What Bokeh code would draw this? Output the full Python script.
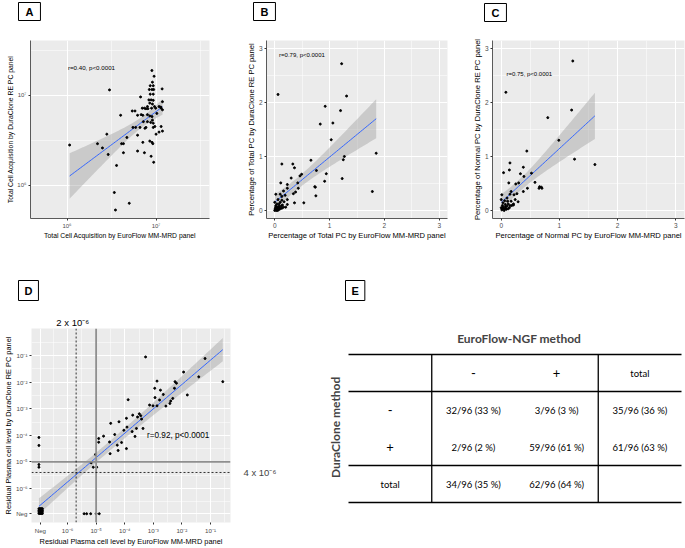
import json
import numpy as np
from bokeh.plotting import figure
from bokeh.models import Range1d, FixedTicker, Label, Span, CustomJSTickFormatter, Title
from bokeh.layouts import column, row
from bokeh.embed import file_html
from bokeh.resources import INLINE
from bokeh.core.properties import value

FONT = "Liberation Sans"
TFONT = "Lato"

# ---------------- Panel A : total cell acquisition (millions of cells)
a_euroflow_millions = [8.98, 9.5, 9.1, 8.6, 9.3, 8.4, 9.0, 9.4, 11.7, 6.7,
                       8.6, 9.3, 8.3, 8.8, 9.3, 8.5, 9.1, 8.0, 9.6, 7.0,
                       7.4, 7.7, 8.1, 8.9, 9.9, 10.8, 11.8, 11.8, 5.4, 5.8,
                       4.0, 6.2, 6.8, 7.1, 8.0, 8.5, 9.0, 11.4, 10.2, 9.1,
                       7.2, 8.0, 8.7, 9.3, 9.7, 7.7, 9.3, 6.6, 5.5, 5.9,
                       7.5, 11.4, 10.8, 10.0, 11.8, 2.8, 6.2, 4.7, 4.1, 4.3,
                       8.5, 9.0, 9.2, 7.1, 2.2, 2.5, 2.9, 4.3, 6.2, 7.4,
                       8.8, 9.4, 3.6, 3.4, 5.0, 3.5, 1.07, 3.0, 11.3]
a_duraclone_millions = [18.9, 16.3, 14.0, 12.8, 12.8, 11.6, 11.6, 11.6, 11.8, 9.6,
                        10.3, 10.3, 8.9, 8.9, 8.8, 8.2, 8.0, 7.5, 7.5, 7.2,
                        7.2, 7.1, 7.1, 7.2, 7.2, 7.5, 8.5, 6.9, 6.7, 6.7,
                        6.0, 6.0, 6.1, 6.0, 6.1, 5.9, 5.8, 7.2, 6.3, 5.3,
                        5.1, 5.1, 5.0, 4.9, 4.5, 4.4, 4.4, 4.4, 4.4, 4.4,
                        4.3, 4.5, 3.9, 3.7, 4.0, 3.7, 3.6, 3.4, 2.9, 2.9,
                        3.1, 3.0, 2.9, 3.0, 2.9, 2.6, 2.2, 2.3, 2.4, 2.3,
                        2.1, 1.8, 1.66, 0.83, 0.63, 0.53, 2.8, 11.5, 7.4]

# ---------------- Panel B : % total PC
b_euroflow = [1.22, 0.06, 1.31, 0.92, 1.20, 0.83, 1.06, 1.03, 1.85, 1.27,
              1.25, 0.66, 0.13, 0.33, 0.36, 0.49, 0.46, 0.76, 0.94, 0.30,
              1.23, 0.91, 0.11, 0.23, 0.42, 0.73, 0.74, 0.23, 0.43, 0.38,
              0.34, 0.75, 1.78, 0.16, 0.10, 0.19, 0.13, 0.02, 0.06, 0.23,
              0.36, 0.53, 0.23, 0.20, 0.14, 0.08, 0.05, 0.02, 0.10, 0.13,
              0.17, 0.04, 0.07, 0.01, 0.03, 0.05, 0.07, 0.10, 0.13, 0.01,
              0.02, 0.04, 0.00, 0.08, 0.12, 0.16, 0.02, 0.06, 0.09, 0.00, 0.03]
b_duraclone = [2.72, 2.15, 2.12, 1.93, 1.85, 1.60, 1.62, 1.31, 1.06, 1.00,
               0.94, 0.93, 0.86, 0.86, 0.79, 0.67, 0.64, 0.74, 0.68, 0.60,
               0.59, 0.54, 0.51, 0.48, 0.51, 0.44, 0.43, 0.41, 0.41, 0.34,
               0.31, 0.27, 0.35, 0.36, 0.30, 0.28, 0.26, 0.30, 0.20, 0.20,
               0.14, 0.14, 0.11, 0.06, 0.10, 0.12, 0.06, 0.07, 0.15, 0.19,
               0.16, 0.03, 0.02, 0.01, 0.00, 0.00, 0.01, 0.03, 0.04, 0.04,
               0.09, 0.12, 0.15, 0.08, 0.08, 0.06, 0.02, 0.05, 0.05, 0.00, 0.05]

# ---------------- Panel C : % normal PC
c_euroflow = [1.23, 0.08, 1.21, 0.80, 0.99, 0.44, 1.26, 1.61, 0.15, 0.38,
              0.14, 0.04, 0.52, 0.33, 0.39, 0.58, 0.13, 0.25, 0.30, 0.66,
              0.69, 0.70, 0.65, 0.45, 0.38, 0.17, 0.27, 0.22, 0.15, 0.01,
              0.10, 0.24, 0.17, 0.29, 0.21, 0.12, 0.07, 0.02, 0.04, 0.01,
              0.06, 0.08, 0.10, 0.15, 0.18, 0.21, 0.03, 0.11, 0.00, 0.06,
              0.02, 0.05, 0.09, 0.12, 0.03, 0.07, 0.00, 0.14]
c_duraclone = [2.77, 2.19, 1.86, 1.72, 1.30, 1.10, 0.95, 0.85, 0.88, 0.80,
               0.75, 0.70, 0.69, 0.68, 0.63, 0.52, 0.51, 0.49, 0.51, 0.44,
               0.43, 0.41, 0.41, 0.41, 0.35, 0.35, 0.31, 0.29, 0.30, 0.29,
               0.23, 0.20, 0.17, 0.16, 0.12, 0.12, 0.07, 0.09, 0.04, 0.01,
               0.02, 0.04, 0.08, 0.09, 0.09, 0.10, 0.14, 0.17, 0.20, 0.18,
               0.03, 0.00, 0.02, 0.03, 0.06, 0.11, 0.05, 0.05]

# ---------------- Panel D : residual PC level, log10 (Neg plotted near -7)
d_euroflow_log = [-3.27, -1.19, -1.94, -1.41, -0.57, -2.87, -2.95, -2.24, -2.19, -2.75,
                  -2.26, -1.81, -2.65, -2.94, -2.32, -3.88, -2.78, -3.13, -3.01, -2.87,
                  -2.56, -2.42, -2.39, -3.49, -3.44, -3.55, -3.72, -3.94, -3.41, -4.20,
                  -4.49, -4.03, -3.92, -3.59, -3.36, -3.74, -4.35, -4.74, -4.91, -4.91,
                  -4.53, -4.11, -4.26, -3.64, -3.94, -4.51, -4.23, -5.02, -5.17, -5.10,
                  -4.98, -7.00, -7.00, -7.00, -7.00, -5.42, -5.33, -5.19, -5.00, -4.89,
                  -7.00, -6.97, -6.94, -6.91, -6.88, -7.00, -6.97, -6.94, -6.91, -6.88,
                  -7.00, -6.97, -6.94, -6.91, -6.88, -7.00, -6.97, -6.94, -6.91, -6.88]
d_duraclone_log = [-1.05, -1.11, -1.62, -1.80, -1.98, -1.96, -2.23, -1.98, -2.04, -2.30,
                   -2.23, -2.48, -2.46, -2.58, -2.61, -2.66, -2.67, -2.86, -2.89, -2.89,
                   -2.90, -2.80, -2.71, -3.19, -3.26, -3.31, -3.24, -3.36, -3.39, -3.49,
                   -3.55, -3.81, -3.69, -3.74, -3.74, -3.86, -3.97, -4.03, -4.12, -4.26,
                   -4.25, -4.27, -4.37, -4.04, -4.50, -4.69, -4.57, -4.72, -5.03, -5.20,
                   -5.20, -4.08, -4.38, -5.10, -5.20, -6.95, -6.95, -6.95, -6.95, -6.95,
                   -6.76, -6.76, -6.76, -6.76, -6.76, -6.82, -6.82, -6.82, -6.82, -6.82,
                   -6.88, -6.88, -6.88, -6.88, -6.88, -6.94, -6.94, -6.94, -6.94, -6.94]

d_tick_pos = [-6.95, -6, -5, -4, -3, -2, -1]
d_tick_labels = ["Neg", "10\u207b\u2076", "10\u207b\u2075", "10\u207b\u2074",
                 "10\u207b\u00b3", "10\u207b\u00b2", "10\u207b\u00b9"]
d_cutoff_solid = 1e-5
d_cutoff_x_dashed = 2e-6
d_cutoff_y_dashed = 4e-6

# ---------------- Panel E : concordance table
e_col_headers = ["-", "+", "total"]
e_row_headers = ["-", "+", "total"]
e_cells = [["32/96 (33 %)", "3/96 (3 %)", "35/96 (36 %)"],
           ["2/96 (2 %)", "59/96 (61 %)", "61/96 (63 %)"],
           ["34/96 (35 %)", "62/96 (64 %)", ""]]

AXIS_GREY = "#4D4D4D"


def tick_formatter(ticks, labels):
    code = ("const t = %s; const l = %s;"
            "for (let i = 0; i < t.length; i++) { if (Math.abs(t[i] - tick) < 1e-6) return l[i]; }"
            "return '';") % (json.dumps(ticks), json.dumps(labels))
    return CustomJSTickFormatter(code=code)


def lm_band(x, y, n=60, t=1.99):
    x = np.asarray(x, float)
    y = np.asarray(y, float)
    b, a = np.polyfit(x, y, 1)
    xs = np.linspace(x.min(), x.max(), n)
    fit = a + b * xs
    resid = y - (a + b * x)
    s = np.sqrt((resid ** 2).sum() / (len(x) - 2))
    sxx = ((x - x.mean()) ** 2).sum()
    se = s * np.sqrt(1.0 / len(x) + (xs - x.mean()) ** 2 / sxx)
    return xs, fit, fit - t * se, fit + t * se


def make_title(text, size, offset, standoff, boxed, pad=(7, 3)):
    kw = dict(text=text, align="left", offset=offset, standoff=standoff,
              text_font=FONT, text_font_size=size, text_color="black")
    if boxed:
        kw.update(text_font_style="bold", border_line_color="black",
                  border_line_width=1, background_fill_color="white")
        try:
            return Title(padding=pad, **kw)
        except (AttributeError, ValueError):
            return Title(**kw)
    kw.update(text_font_style="normal")
    return Title(**kw)


def spacer_title(standoff):
    # blank title that only reserves vertical room between the frame and the panel letter
    return Title(text=" ", text_font_size="1px", standoff=standoff)


def panel(w, h, bl, br, bt, bb, xr, yr, xt, xm, yt, ym, xtitle, ytitle,
          tick_size, title_size, xfmt=None, yfmt=None, axis_line=True):
    p = figure(width=w, height=h, x_range=Range1d(*xr), y_range=Range1d(*yr),
               output_backend="svg", toolbar_location=None, title=None,
               min_border_left=bl, min_border_right=br,
               min_border_top=bt, min_border_bottom=bb)
    p.background_fill_color = "#EBEBEB"
    p.border_fill_color = "white"
    p.outline_line_color = None
    p.xaxis.ticker = FixedTicker(ticks=xt, minor_ticks=xm)
    p.yaxis.ticker = FixedTicker(ticks=yt, minor_ticks=ym)
    if xfmt is not None:
        p.xaxis.formatter = xfmt
    if yfmt is not None:
        p.yaxis.formatter = yfmt
    p.xaxis.axis_label = xtitle
    p.yaxis.axis_label = ytitle
    for ax in (p.xaxis[0], p.yaxis[0]):
        ax.axis_label_text_font = FONT
        ax.axis_label_text_font_size = title_size
        ax.axis_label_text_font_style = "normal"
        ax.axis_label_text_color = "black"
        ax.axis_label_standoff = 0
        ax.major_label_text_font = FONT
        ax.major_label_text_font_size = tick_size
        ax.major_label_text_color = AXIS_GREY
        ax.major_label_standoff = 0
        ax.major_tick_in = 0
        ax.major_tick_out = 2
        ax.major_tick_line_color = "#333333"
        ax.minor_tick_line_color = None
        ax.axis_line_color = "#5a5a5a" if axis_line else None
    p.grid.grid_line_color = "white"
    p.grid.grid_line_width = 1.1
    p.grid.minor_grid_line_color = "white"
    p.grid.minor_grid_line_width = 0.5
    return p


def add_fit(p, x, y):
    xs, fit, lo, hi = lm_band(x, y)
    p.varea(x=xs, y1=lo, y2=hi, fill_color="#999999", fill_alpha=0.4)
    p.line(xs, fit, line_color="#3366FF", line_width=1)


def r_label(p, text, x, y, size):
    p.add_layout(Label(x=x, y=y, text=text, text_font=FONT, text_font_size=size,
                       text_align="left", text_baseline="middle", text_color="black"))


TOP_H = 242
BOT_H = 548 - TOP_H
TOP_BT, TOP_BB = 40, 24
LEFT_B = 30

# ---------------- A
pa = panel(230, TOP_H, LEFT_B, 21, TOP_BT, TOP_BB, (5.59, 7.60), (5.63, 7.61),
           [6, 7], [5.5, 6.5, 7.5], [6, 7], [5.5, 6.5, 7.5],
           "Total Cell Acquisition by EuroFlow MM-MRD panel",
           "Total Cell Acquisition by DuraClone RE PC panel", "6px", "6.8px",
           xfmt=tick_formatter([6, 7], ["10\u2076", "10\u2077"]),
           yfmt=tick_formatter([6, 7], ["10\u2076", "10\u2077"]))
ax_log = np.log10(np.array(a_euroflow_millions) * 1e6)
ay_log = np.log10(np.array(a_duraclone_millions) * 1e6)
add_fit(pa, ax_log, ay_log)
pa.scatter(ax_log, ay_log, size=2, color="black")
r_label(pa, "r=0.40, p<0.0001", 6.01, 7.31, "6.2px")
pa.add_layout(spacer_title(17), "above")
pa.add_layout(make_title("A", "11px", -12, 0, True), "above")

# ---------------- B
pb = panel(230, TOP_H, 36, 13, TOP_BT, TOP_BB, (-0.15, 3.15), (-0.15, 3.15),
           [0, 1, 2, 3], [0.5, 1.5, 2.5], [0, 1, 2, 3], [0.5, 1.5, 2.5],
           "Percentage of Total PC by EuroFlow MM-MRD panel",
           "Percentage of Total PC by DuraClone RE PC panel", "6.5px", "7.6px")
add_fit(pb, b_euroflow, b_duraclone)
pb.scatter(b_euroflow, b_duraclone, size=2, color="black")
r_label(pb, "r=0.79, p<0.0001", 0.08, 2.89, "6px")
pb.add_layout(spacer_title(17), "above")
pb.add_layout(make_title("B", "11px", -13, 0, True), "above")

# ---------------- C
pc = panel(225, TOP_H, 32, 1, TOP_BT, TOP_BB, (-0.15, 3.15), (-0.15, 3.15),
           [0, 1, 2, 3], [0.5, 1.5, 2.5], [0, 1, 2, 3], [0.5, 1.5, 2.5],
           "Percentage of Normal PC by EuroFlow MM-MRD panel",
           "Percentage of Normal PC by DuraClone RE PC panel", "6.5px", "7.6px")
add_fit(pc, c_euroflow, c_duraclone)
pc.scatter(c_euroflow, c_duraclone, size=2, color="black")
r_label(pc, "r=0.75, p<0.0001", 0.09, 2.53, "6px")
pc.add_layout(spacer_title(16), "above")
pc.add_layout(make_title("C", "11px", -8, 0, True), "above")

# ---------------- D
D_W, D_BR, D_BT, D_BB = 236, 6, 86, 26
d_xr, d_yr = (-7.26, -0.30), (-7.28, 0.02)
d_minor = [-6.5, -5.5, -4.5, -3.5, -2.5, -1.5, -0.5]
pd_ = panel(D_W, BOT_H, LEFT_B, D_BR, D_BT, D_BB, d_xr, d_yr,
            d_tick_pos, d_minor, d_tick_pos, d_minor,
            "Residual Plasma cell level by EuroFlow MM-MRD panel",
            "Residual Plasma cell level by DuraClone RE PC panel", "6.2px", "7.4px",
            xfmt=tick_formatter(d_tick_pos, d_tick_labels),
            yfmt=tick_formatter(d_tick_pos, d_tick_labels), axis_line=False)
for dim in ("height", "width"):
    pd_.add_layout(Span(location=np.log10(d_cutoff_solid), dimension=dim,
                        line_color="#8f8f8f", line_width=1.8))
pd_.add_layout(Span(location=np.log10(d_cutoff_x_dashed), dimension="height",
                    line_color="black", line_width=0.8, line_dash="2 2"))
pd_.add_layout(Span(location=np.log10(d_cutoff_y_dashed), dimension="width",
                    line_color="black", line_width=0.8, line_dash="2 2"))
add_fit(pd_, d_euroflow_log, d_duraclone_log)
pd_.scatter(d_euroflow_log, d_duraclone_log, size=2, color="black")
r_label(pd_, "r=0.92, p<0.0001", -3.22, -4.02, "8.2px")
d_frame_w = D_W - LEFT_B - D_BR
d_px_per_x = d_frame_w / (d_xr[1] - d_xr[0])
x_lbl_off = (np.log10(d_cutoff_x_dashed) - d_xr[0]) * d_px_per_x - 20
pd_.add_layout(make_title("2 x 10\u207b\u2076", "9.5px", float(x_lbl_off), 2, False), "above")
pd_.add_layout(make_title("D", "11px", -13, 26, True, pad=(6, 4)), "above")

# ---------------- E (table)
E_W = 685 - D_W
pe = figure(width=E_W, height=BOT_H, output_backend="svg", toolbar_location=None,
            x_axis_location=None, y_axis_location=None, title=None,
            min_border_left=0, min_border_right=1, min_border_top=D_BT, min_border_bottom=D_BB)
pe.outline_line_color = None
pe.grid.visible = False
cell_w, cell_h = 83.25, 37.0            # table cell size in px
table_left_px, table_top_px = 112.0, 26.0  # table origin inside the frame
frame_h = BOT_H - D_BT - D_BB
pe.x_range = Range1d(-table_left_px / cell_w, (E_W - 1 - table_left_px) / cell_w)
pe.y_range = Range1d((frame_h - table_top_px) / cell_h, -table_top_px / cell_h)

n_rows = len(e_row_headers) + 1
n_cols = len(e_col_headers) + 1
h_rows = [0, 1, n_rows - 1, n_rows]
pe.segment(x0=[0] * len(h_rows), y0=h_rows, x1=[n_cols] * len(h_rows), y1=h_rows,
           line_color="black", line_width=1.3)
v_cols = [1, n_cols - 1]
pe.segment(x0=v_cols, y0=[0, 0], x1=v_cols, y1=[n_rows, n_rows],
           line_color="black", line_width=1.3)

sym_size = "13px"
txt_size = "9.5px"
for j, h in enumerate(e_col_headers):
    pe.text(x=[j + 1.5], y=[0.5], text=[h], text_font=value(TFONT),
            text_font_size=sym_size if h in "+-" else txt_size,
            text_align="center", text_baseline="middle")
for i, h in enumerate(e_row_headers):
    pe.text(x=[0.5], y=[i + 1.5], text=[h], text_font=value(TFONT),
            text_font_size=sym_size if h in "+-" else txt_size,
            text_align="center", text_baseline="middle")
cx, cy, ct = [], [], []
for i, r_ in enumerate(e_cells):
    for j, c in enumerate(r_):
        cx.append(j + 1.5)
        cy.append(i + 1.5)
        ct.append(c)
pe.text(x=cx, y=cy, text=ct, text_font=value(TFONT), text_font_size=txt_size,
        text_align="center", text_baseline="middle")
pe.add_layout(Label(x=2.05, y=-0.43, text="EuroFlow-NGF method", text_font=TFONT,
                    text_font_size="12px", text_font_style="bold",
                    text_align="center", text_baseline="middle"))
pe.add_layout(Label(x=-0.156, y=1.97, text="DuraClone method", text_font=TFONT,
                    text_font_size="12px", text_font_style="bold", angle=np.pi / 2,
                    text_align="center", text_baseline="middle"))
# "4 x 10^-6" annotation of panel D, sitting right of D's frame (inside this figure)
d_px_per_y = frame_h / (d_yr[1] - d_yr[0])
y_px = (d_yr[1] - np.log10(d_cutoff_y_dashed)) * d_px_per_y
pe.add_layout(Label(x=(7 - table_left_px) / cell_w, y=(y_px - table_top_px) / cell_h,
                    text="4 x 10\u207b\u2076", text_font=FONT, text_font_size="9.5px",
                    text_align="left", text_baseline="middle"))
pe.add_layout(make_title("E", "11px", 109, 56, True, pad=(6, 4)), "above")

layout = column(row(pa, pb, pc), row(pd_, pe))
open("out.html", "w").write(file_html(layout, INLINE))
